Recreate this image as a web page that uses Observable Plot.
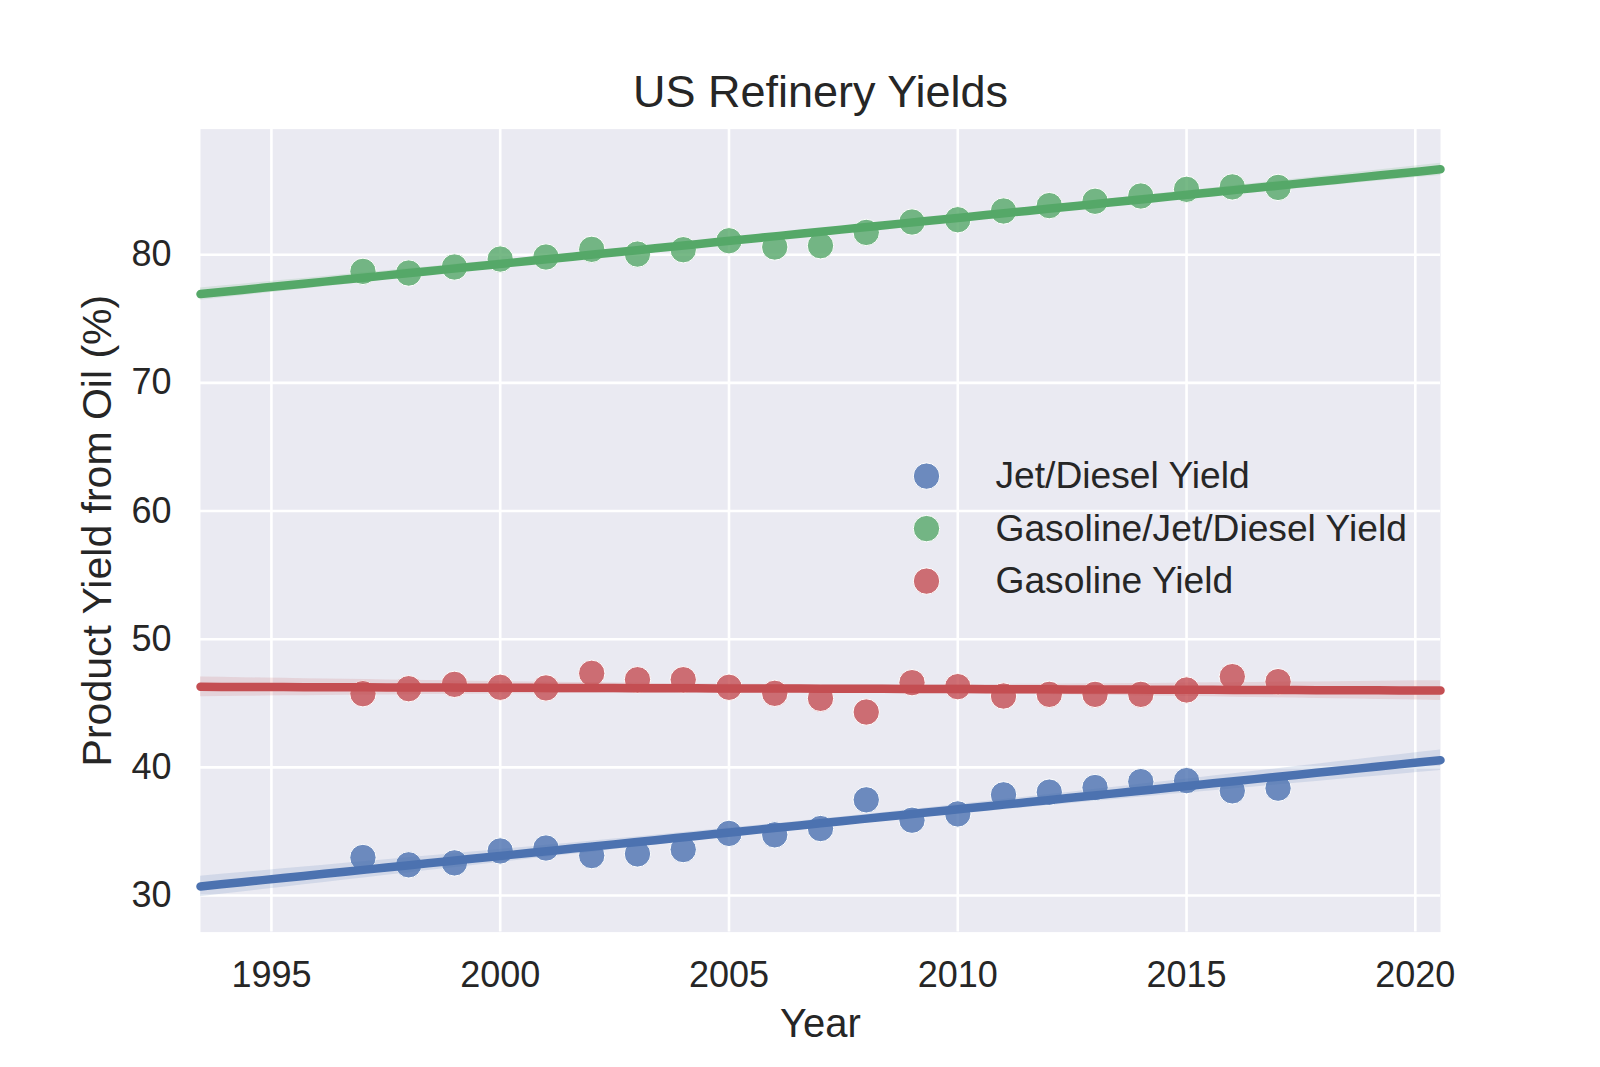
<!DOCTYPE html>
<html>
<head>
<meta charset="utf-8">
<script src="https://cdn.jsdelivr.net/npm/d3@7"></script>
<script src="https://cdn.jsdelivr.net/npm/@observablehq/plot@0.6"></script>
<style>
  html, body { margin: 0; padding: 0; background: #ffffff; }
  #chart { width: 1600px; height: 1067px; }
</style>
</head>
<body>
<div id="chart"></div>
<script>
// ---- data ----
const years = [1997, 1998, 1999, 2000, 2001, 2002, 2003, 2004, 2005, 2006, 2007,
               2008, 2009, 2010, 2011, 2012, 2013, 2014, 2015, 2016, 2017];
const jetDieselYield = [32.97, 32.40, 32.55, 33.48, 33.71, 33.12, 33.25, 33.59, 34.85, 34.74, 35.23,
                        37.47, 35.88, 36.37, 37.86, 38.07, 38.43, 38.89, 38.97, 38.17, 38.38];
const gasJetDieselYield = [78.70, 78.57, 79.04, 79.66, 79.82, 80.42, 80.05, 80.39, 81.09, 80.60, 80.70,
                           81.74, 82.55, 82.73, 83.41, 83.83, 84.17, 84.58, 85.10, 85.29, 85.25];
const gasolineYield = [45.75, 46.14, 46.48, 46.25, 46.20, 47.34, 46.84, 46.84, 46.25, 45.78, 45.39,
                       44.32, 46.61, 46.30, 45.57, 45.70, 45.70, 45.70, 46.04, 47.08, 46.69];
const seriesNames = ["Jet/Diesel Yield", "Gasoline/Jet/Diesel Yield", "Gasoline Yield"];
const seriesColors = ["#4C72B0", "#55A868", "#C44E52"];
const xTicks = [1995, 2000, 2005, 2010, 2015, 2020];
const yTicks = [30, 40, 50, 60, 70, 80];
const titleText = "US Refinery Yields";
const xLabel = "Year";
const yLabel = "Product Yield from Oil (%)";

const xDomain = [1993.45, 2020.55];
const yDomain = [27.15, 89.8];

// ---- least-squares fit with 95% confidence band ----
function fit(xs, ys, x0, x1) {
  const n = xs.length;
  const mx = d3.mean(xs), my = d3.mean(ys);
  const sxx = d3.sum(xs, x => (x - mx) ** 2);
  const sxy = d3.sum(xs, (x, i) => (x - mx) * (ys[i] - my));
  const b = sxy / sxx, a = my - b * mx;
  const s = Math.sqrt(d3.sum(xs, (x, i) => (ys[i] - (a + b * x)) ** 2) / (n - 2));
  const t = 2.093;
  return d3.range(0, 61).map(k => {
    const x = x0 + (x1 - x0) * k / 60;
    const yhat = a + b * x;
    const se = s * Math.sqrt(1 / n + (x - mx) ** 2 / sxx);
    return {x, y: yhat, lo: yhat - t * se, hi: yhat + t * se};
  });
}

const seriesValues = [jetDieselYield, gasJetDieselYield, gasolineYield];
const font = "'Liberation Sans', Arial, Helvetica, sans-serif";
const ink = "#262626";
const dotR = 13.2;

const seriesMarks = seriesValues.flatMap((vals, i) => {
  const pts = years.map((yr, j) => ({x: yr, y: vals[j]}));
  const reg = fit(years, vals, xDomain[0], xDomain[1]);
  return [
    Plot.dot(pts, {x: "x", y: "y", r: dotR, fill: seriesColors[i], fillOpacity: 0.8,
                   stroke: "white", strokeWidth: 1}),
    Plot.areaY(reg, {x: "x", y1: "lo", y2: "hi", fill: seriesColors[i], fillOpacity: 0.15}),
    Plot.line(reg, {x: "x", y: "y", stroke: seriesColors[i], strokeWidth: 8.5})
  ];
});

const legendMarks = seriesNames.flatMap((name, i) => [
  Plot.dot([name], {frameAnchor: "top-left", dx: 726, dy: 347 + 52.5 * i, r: dotR,
                    fill: seriesColors[i], fillOpacity: 0.8, stroke: "white", strokeWidth: 1}),
  Plot.text([name], {frameAnchor: "top-left", dx: 795, dy: 347 + 52.5 * i, text: d => d,
                     textAnchor: "start", lineAnchor: "middle", fontSize: 37.2, fill: ink})
]);

const chart = Plot.plot({
  width: 1600,
  height: 1067,
  marginLeft: 200,
  marginRight: 160,
  marginTop: 128.6,
  marginBottom: 135.4,
  style: {fontFamily: font, color: ink, background: "#ffffff", overflow: "visible"},
  x: {domain: xDomain},
  y: {domain: yDomain},
  marks: [
    Plot.frame({fill: "#EAEAF2", stroke: null}),
    Plot.gridX(xTicks, {stroke: "white", strokeOpacity: 1, strokeWidth: 2.6}),
    Plot.gridY(yTicks, {stroke: "white", strokeOpacity: 1, strokeWidth: 2.6}),
    ...seriesMarks,
    ...legendMarks,
    Plot.axisX(xTicks, {tickSize: 0, tickPadding: 29, fontSize: 36, tickFormat: d => String(d),
                        label: null, fill: ink}),
    Plot.axisY(yTicks, {tickSize: 0, tickPadding: 29, fontSize: 36, label: null, fill: ink}),
    Plot.text([xLabel], {frameAnchor: "bottom", dy: 105, lineAnchor: "bottom",
                         fontSize: 40, fill: ink, text: d => d}),
    Plot.text([yLabel], {frameAnchor: "left", dx: -103, rotate: -90, lineAnchor: "middle",
                         textAnchor: "middle", fontSize: 41, fill: ink, text: d => d}),
    Plot.text([titleText], {frameAnchor: "top", dy: -22.6, lineAnchor: "bottom",
                            fontSize: 45, fill: ink, text: d => d})
  ]
});
document.getElementById("chart").appendChild(chart);
</script>
</body>
</html>
